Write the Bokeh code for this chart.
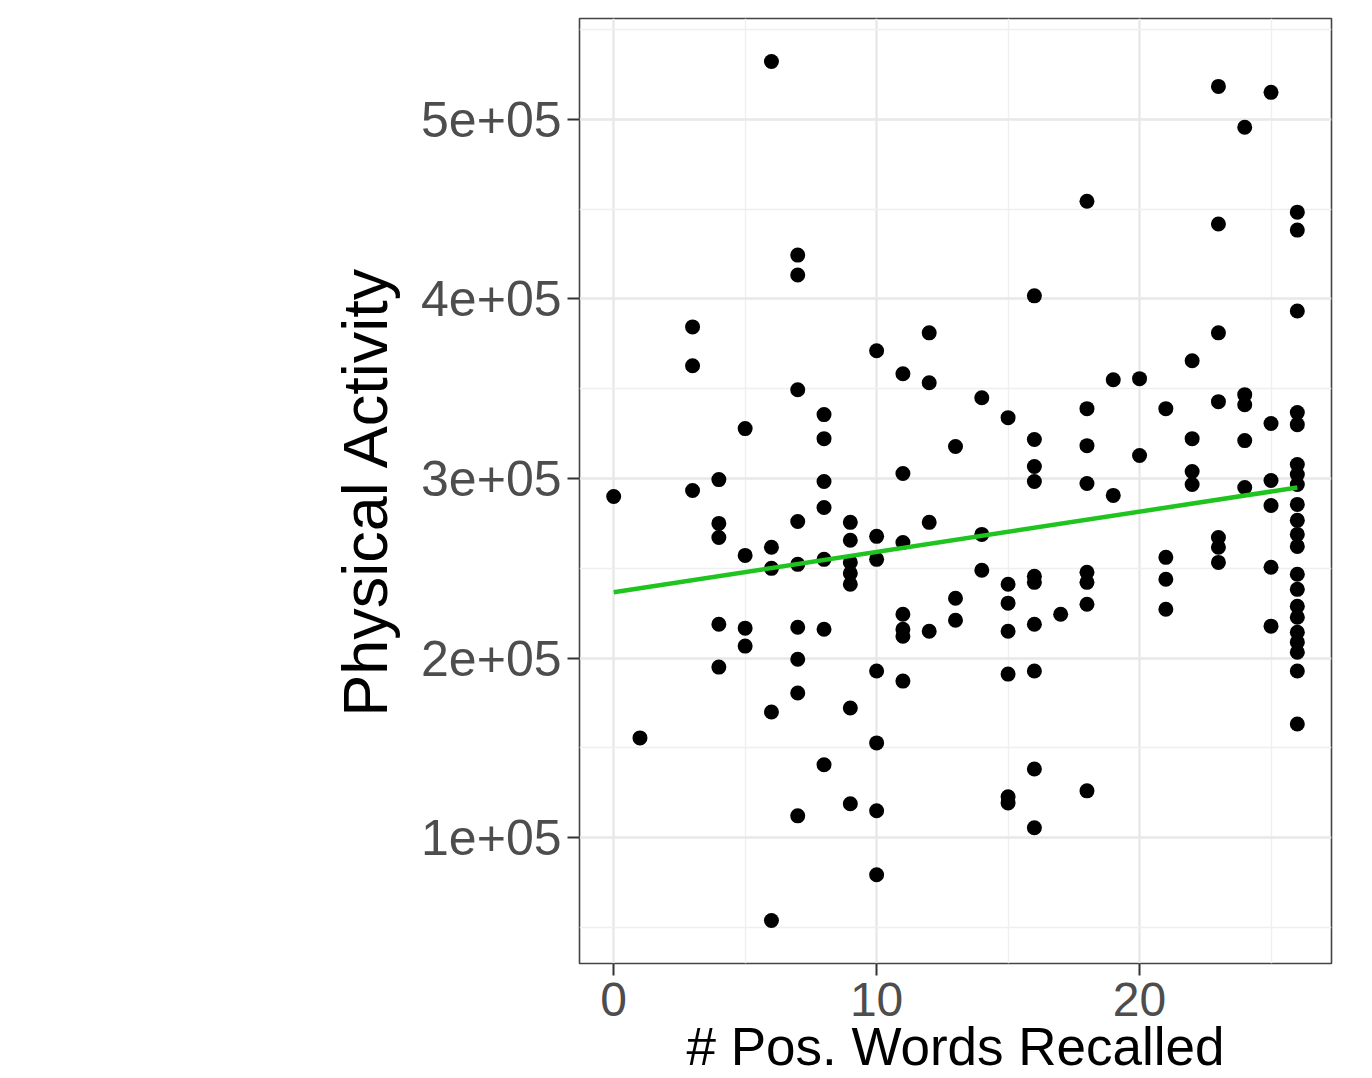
from bokeh.plotting import figure
from bokeh.models import FixedTicker, Range1d
from bokeh.embed import file_html
from bokeh.resources import INLINE

# ---- data ----
words = ([0] + [1] + [3]*3 + [4]*5 + [5]*4 + [6]*5 + [7]*9 + [8]*7 + [9]*7 + [10]*7 +
         [11]*7 + [12]*4 + [13]*3 + [14]*3 + [15]*7 + [16]*10 + [17] + [18]*8 +
         [19]*2 + [20]*2 + [21]*4 + [22]*4 + [23]*7 + [24]*5 + [25]*6 + [26]*21)

activity_e5 = [
    2.90,
    1.556,
    3.844, 3.628, 2.933,
    2.994, 2.75, 2.672, 2.189, 1.95,
    3.278, 2.572, 2.167, 2.067,
    5.322, 2.617, 2.5, 1.7, 0.539,
    4.244, 4.133, 3.494, 2.761, 2.522, 2.172, 1.994, 1.806, 1.122,
    3.356, 3.222, 2.983, 2.839, 2.55, 2.161, 1.406,
    2.756, 2.656, 2.533, 2.472, 2.411, 1.722, 1.189,
    3.711, 2.678, 2.55, 1.928, 1.528, 1.15, 0.794,
    3.583, 3.028, 2.644, 2.244, 2.161, 2.122, 1.872,
    3.811, 3.533, 2.756, 2.15,
    3.178, 2.333, 2.211,
    3.45, 2.689, 2.489,
    3.339, 2.411, 2.306, 2.15, 1.911, 1.228, 1.194,
    4.017, 3.217, 3.067, 2.983, 2.456, 2.422, 2.189, 1.928, 1.383, 1.056,
    2.244,
    4.544, 3.389, 3.183, 2.972, 2.478, 2.422, 2.3, 1.261,
    3.55, 2.906,
    3.556, 3.128,
    3.389, 2.561, 2.439, 2.272,
    3.656, 3.222, 3.039, 2.967,
    5.183, 4.417, 3.811, 3.428, 2.672, 2.617, 2.533,
    4.956, 3.467, 3.411, 3.211, 2.95,
    5.15, 3.306, 2.989, 2.85, 2.506, 2.178,
    4.483, 4.383, 3.933, 3.367, 3.3, 3.078, 3.022, 2.967, 2.856, 2.767, 2.689,
    2.622, 2.467, 2.383, 2.289, 2.228, 2.144, 2.089, 2.033, 1.928, 1.633,
]
activity = [v * 1e5 for v in activity_e5]

# fitted (lm) line, end points
fit_words = [0, 26]
fit_activity = [236700, 295000]

x_ticks = [0, 10, 20]
x_minor = [-5, 5, 15, 25]
y_ticks = [100000, 200000, 300000, 400000, 500000]
y_tick_labels = ["1e+05", "2e+05", "3e+05", "4e+05", "5e+05"]
y_minor = [50000, 150000, 250000, 350000, 450000, 550000]

x_title = "# Pos. Words Recalled"
y_title = "Physical Activity"

# ---- ranges (ggplot 5% expansion) ----
xmin, xmax = min(words), max(words)
ymin, ymax = min(activity), max(activity)
xpad = (xmax - xmin) * 0.05
ypad = (ymax - ymin) * 0.05

FONT = "Liberation Sans"

p = figure(
    output_backend="svg", toolbar_location=None,
    frame_width=752, frame_height=945,
    min_border_left=579, min_border_top=18, min_border_right=20, min_border_bottom=0,
    x_range=Range1d(xmin - xpad, xmax + xpad),
    y_range=Range1d(ymin - ypad, ymax + ypad),
    background_fill_color="white", border_fill_color="white",
)
p.outline_line_color = "#444444"
p.outline_line_width = 1.6

p.xaxis.ticker = FixedTicker(ticks=x_ticks, minor_ticks=x_minor)
p.yaxis.ticker = FixedTicker(ticks=y_ticks, minor_ticks=y_minor)
p.yaxis.major_label_overrides = {t: l for t, l in zip(y_ticks, y_tick_labels)}

for ax in (p.xaxis, p.yaxis):
    ax.axis_line_color = None
    ax.minor_tick_line_color = None
    ax.major_tick_line_color = "#333333"
    ax.major_tick_line_width = 2
    ax.major_tick_out = 12
    ax.major_tick_in = 0
    ax.major_label_text_font = FONT
    ax.major_label_text_color = "#4d4d4d"
    ax.axis_label_text_font = FONT
    ax.axis_label_text_font_style = "normal"
    ax.axis_label_text_color = "black"

p.yaxis.major_label_text_font_size = "50px"
p.yaxis.major_label_standoff = 6
p.yaxis.axis_label = y_title
p.yaxis.axis_label_text_font_size = "63px"
p.yaxis.axis_label_standoff = 18

p.xaxis.major_label_text_font_size = "48px"
p.xaxis.major_label_standoff = 7
p.xaxis.axis_label = x_title
p.xaxis.axis_label_text_font_size = "53px"
p.xaxis.axis_label_standoff = -2

for g in (p.xgrid, p.ygrid):
    g.grid_line_color = "#e8e8e8"
    g.grid_line_width = 2.4
    g.minor_grid_line_color = "#efefef"
    g.minor_grid_line_width = 1.4

p.scatter(words, activity, size=15, color="black", line_color=None)
p.line(fit_words, fit_activity, line_color="#1fc41f", line_width=4.5)

open("out.html", "w").write(file_html(p, INLINE))
